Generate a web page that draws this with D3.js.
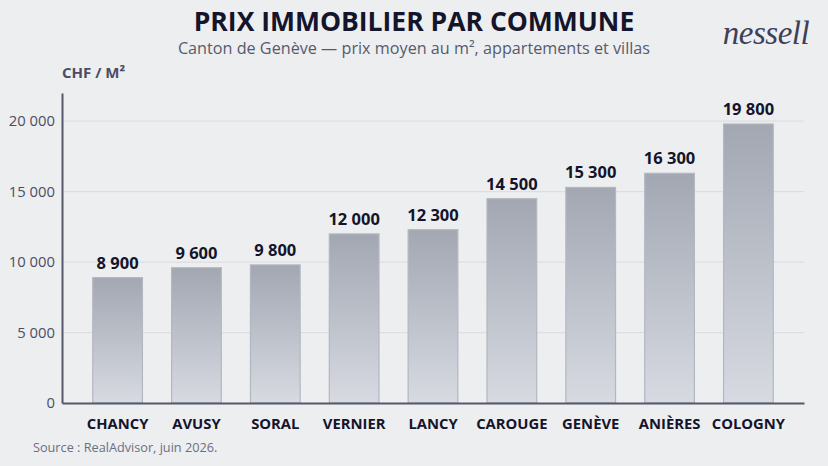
<!DOCTYPE html>
<html><head><meta charset="utf-8">
<script src="https://cdn.jsdelivr.net/npm/d3@7"></script>
<style>
html,body{margin:0;padding:0;background:#edeef0;}
svg{display:block;font-family:"Open Sans","Noto Sans",sans-serif;}
</style></head>
<body><svg id="c" width="828" height="466"></svg>
<script>
const communes = ["CHANCY","AVUSY","SORAL","VERNIER","LANCY","CAROUGE","GENÈVE","ANIÈRES","COLOGNY"];
const prix = [8900, 9600, 9800, 12000, 12300, 14500, 15300, 16300, 19800];
const yTicks = [0, 5000, 10000, 15000, 20000];
const titre = "PRIX IMMOBILIER PAR COMMUNE";
const sousTitre = "Canton de Genève — prix moyen au m², appartements et villas";
const unite = "CHF / M²";
const source = "Source : RealAdvisor, juin 2026.";

const svg = d3.select("#c");
const W = 828, H = 466;
const m = {left: 62, right: 24, top: 93, bottom: 63};
const loc = d3.formatLocale({decimal: ",", thousands: " ", grouping: [3], currency: ["", " CHF"]});
const fmt = loc.format(",d");

svg.append("rect").attr("width", W).attr("height", H).attr("fill", "#edeef0");

const defs = svg.append("defs");
const g = defs.append("linearGradient").attr("id", "bg").attr("x1", 0).attr("x2", 0).attr("y1", 0).attr("y2", 1);
g.append("stop").attr("offset", "0%").attr("stop-color", "#a2a7b2");
g.append("stop").attr("offset", "100%").attr("stop-color", "#d7dae1");

const x = d3.scaleBand().domain(communes).range([m.left, W - m.right]).paddingInner(0.37).paddingOuter(0.39);
const y = d3.scaleLinear().domain([0, 22000]).range([H - m.bottom, m.top]);

// grid
svg.append("g").selectAll("line").data(yTicks.filter(d => d > 0)).join("line")
  .attr("x1", m.left).attr("x2", W - m.right)
  .attr("y1", d => y(d)).attr("y2", d => y(d))
  .attr("stroke", "#dcdee3").attr("stroke-width", 1.2);

// bars
svg.append("g").selectAll("rect").data(prix).join("rect")
  .attr("x", (d, i) => x(communes[i]))
  .attr("width", x.bandwidth())
  .attr("y", d => y(d))
  .attr("height", d => y(0) - y(d))
  .attr("fill", "url(#bg)")
  .attr("stroke", "#b3b7c0").attr("stroke-width", 1.2);

// value labels
svg.append("g").selectAll("text").data(prix).join("text")
  .attr("x", (d, i) => x(communes[i]) + x.bandwidth() / 2)
  .attr("y", d => y(d) - 9)
  .attr("text-anchor", "middle")
  .attr("font-size", 16.5).attr("font-weight", 700).attr("fill", "#14142b")
  .text(d => fmt(d));

// y axis
const ya = svg.append("g").attr("transform", `translate(${m.left},0)`)
  .call(d3.axisLeft(y).tickValues(yTicks).tickFormat(fmt).tickSize(0).tickPadding(7));
ya.select(".domain").attr("stroke", "#55586b").attr("stroke-width", 2);
ya.selectAll("text").attr("font-size", 14.8).attr("fill", "#4a4d63").attr("font-family", "Open Sans, sans-serif");

// x axis
const xa = svg.append("g").attr("transform", `translate(0,${y(0)})`)
  .call(d3.axisBottom(x).tickSize(0).tickPadding(15));
xa.select(".domain").attr("stroke", "#55586b").attr("stroke-width", 2);
xa.selectAll("text").attr("font-size", 14.8).attr("font-weight", 700).attr("fill", "#14142b").attr("font-family", "Open Sans, sans-serif");

// titles
svg.append("text").attr("x", 414).attr("y", 31).attr("text-anchor", "middle")
  .attr("font-size", 26.5).attr("font-weight", 700).attr("fill", "#14142b").text(titre);
svg.append("text").attr("x", 414).attr("y", 54).attr("text-anchor", "middle")
  .attr("font-size", 16.2).attr("fill", "#575a6e").text(sousTitre);
svg.append("text").attr("x", 62).attr("y", 78)
  .attr("font-size", 15).attr("font-weight", 700).attr("fill", "#4a4d63").text(unite);
svg.append("text").attr("x", 33).attr("y", 452)
  .attr("font-size", 12.7).attr("fill", "#6b6e80").text(source);

// logo
svg.append("text").attr("x", 766).attr("y", 44).attr("text-anchor", "middle")
  .attr("font-family", "Liberation Serif, DejaVu Serif, serif").attr("font-style", "italic")
  .attr("font-size", 33).attr("fill", "#3d4057").attr("letter-spacing", -0.5).text("nessell");
</script>
</body></html>
